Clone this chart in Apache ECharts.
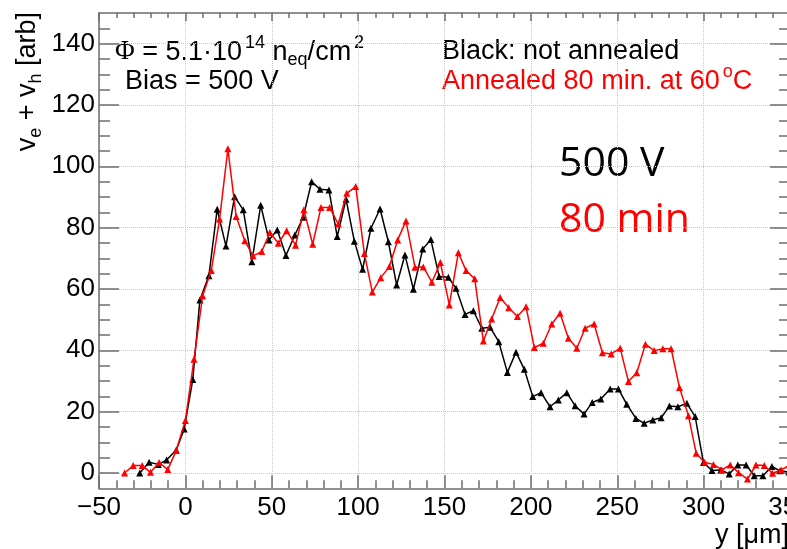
<!DOCTYPE html>
<html>
<head>
<meta charset="utf-8">
<script src="https://cdn.jsdelivr.net/npm/echarts@6/dist/echarts.min.js"></script>
<style>
  html, body { margin: 0; padding: 0; overflow: hidden; background: #fff; }
  #chart { width: 787px; height: 549px; }
</style>
</head>
<body>
<div id="chart"></div>
<script>
/* global echarts */

// values
const redX = [-35.2, -30.2, -25.0, -20.2, -15.2, -10.2, -5.3, 0.0, 5.0, 10.0,
  15.0, 19.8, 24.6, 29.4, 34.4, 39.2, 44.2, 48.9, 53.8, 58.6,
  63.8, 68.6, 73.7, 78.5, 83.5, 88.5, 93.4, 98.6, 103.6, 108.2,
  113.1, 118.1, 122.9, 127.7, 132.9, 137.7, 142.7, 147.6, 152.8, 158.0,
  162.5, 167.5, 172.5, 177.3, 182.2, 187.2, 192.2, 197.2, 202.0, 207.2,
  212.1, 216.9, 221.7, 226.6, 231.4, 236.6, 241.4, 246.5, 251.7, 256.5,
  261.3, 266.3, 271.4, 276.4, 281.2, 286.0, 291.2, 295.7, 300.5, 305.7,
  310.6, 315.4, 320.2, 325.4, 330.3, 335.1, 339.9, 344.9, 349.8];
const redY = [0, 2.4, 2.4, 0.2, 3.4, 1.1, 7.3, 17.1, 37.1, 57.8,
  66.0, 82.8, 105.7, 83.6, 75.7, 70.8, 72.2, 78.4, 74.9, 79.0,
  74.3, 85.8, 74.6, 86.6, 86.6, 81.2, 91.2, 93.4, 71.6, 59.0,
  63.7, 67.3, 76.0, 82.2, 67.1, 67.2, 62.2, 68.6, 54.8, 71.8,
  66.0, 63.3, 43.0, 50.2, 57.2, 53.9, 51.0, 54.2, 40.9, 42.3,
  48.6, 52.1, 43.9, 40.7, 47.2, 48.6, 39.2, 38.8, 40.7, 29.8,
  32.7, 42.0, 39.9, 40.5, 40.5, 27.9, 18.7, 6.4, 3.5, 2.8,
  1.0, 2.6, 0.1, -2.0, 2.6, 2.4, -0.1, 1.0, 2.6];

const blackX = [-26.4, -21.0, -15.7, -10.9, -5.3, -0.7, 4.3, 8.4, 13.6, 18.4,
  23.5, 28.5, 33.5, 38.5, 43.6, 48.4, 53.2, 58.2, 63.4, 68.2,
  73.1, 77.9, 83.1, 87.9, 93.0, 97.8, 102.6, 107.4, 112.7, 117.5,
  122.3, 127.1, 132.0, 137.4, 142.1, 146.9, 152.2, 156.7, 161.9, 166.7,
  171.6, 176.4, 181.4, 186.4, 191.4, 196.2, 201.1, 205.9, 211.1, 215.9,
  220.8, 225.6, 230.8, 235.5, 240.5, 245.9, 250.7, 255.5, 260.8, 265.6,
  270.6, 275.4, 280.2, 285.1, 290.3, 295.1, 299.9, 304.8, 310.0, 314.8,
  319.8, 324.6, 329.3, 334.3, 339.5, 344.3, 349.3];
const blackY = [0.0, 3.5, 2.8, 4.2, 7.5, 14.3, 30.5, 56.4, 64.3, 86.0,
  74.0, 90.1, 85.8, 68.9, 87.3, 76.0, 79.2, 70.9, 77.6, 83.4,
  95.0, 92.5, 92.3, 77.1, 89.3, 75.6, 66.4, 79.8, 86.1, 75.4,
  61.3, 71.1, 59.9, 73.0, 76.1, 64.1, 63.8, 60.2, 51.7, 52.9,
  47.2, 47.5, 42.8, 32.8, 39.4, 33.8, 24.9, 26.2, 21.6, 23.8,
  26.2, 21.9, 19.2, 23.0, 24.1, 27.4, 27.4, 22.4, 17.8, 16.2,
  17.3, 18.0, 21.8, 21.6, 22.7, 18.4, 3.4, 0.8, 1.0, -0.3,
  2.6, 2.6, -0.9, -0.9, 2.1, 0.7, 0.3];

const yTicks = [0, 20, 40, 60, 80, 100, 120, 140];

const AXIS_COLOR = "#6e6e6e";
const GRID_COLOR = "#c6c6c6";
const RED = "#ff0000";
const ROOT_FONT = "Liberation Sans";

function toPairs(xs, ys) {
  return xs.map((x, i) => [x, ys[i]]);
}

function xLabel(value) {
  return value < 0 ? "\u2212" + Math.abs(value) : String(value);
}

const tickLine = { color: AXIS_COLOR, width: 1.5 };

function xAxisOpt(position, major, minor, labels) {
  return {
    type: "value",
    position,
    min: -50,
    max: 350,
    interval: 50,
    axisLine: { show: true, onZero: false, lineStyle: tickLine },
    axisTick: { show: true, inside: true, length: major, lineStyle: tickLine },
    minorTick: { show: true, splitNumber: 5, length: minor, lineStyle: tickLine },
    axisLabel: {
      show: labels,
      margin: 7,
      color: "#000",
      fontSize: 26,
      fontFamily: ROOT_FONT,
      formatter: xLabel,
      showMinLabel: true,
      showMaxLabel: true,
    },
    splitLine: {
      show: labels,
      lineStyle: { color: GRID_COLOR, type: "dotted", width: 1 },
    },
  };
}

function yAxisOpt(position, labels) {
  return {
    type: "value",
    position,
    min: -5,
    max: 150,
    splitNumber: 8,
    minInterval: 20,
    maxInterval: 20,
    axisLine: { show: true, onZero: false, lineStyle: tickLine },
    axisTick: { show: true, inside: true, length: 20, customValues: yTicks, lineStyle: tickLine },
    minorTick: { show: true, splitNumber: 4, length: 11, lineStyle: tickLine },
    axisLabel: {
      show: labels,
      customValues: yTicks,
      margin: 4,
      color: "#000",
      fontSize: 26,
      fontFamily: ROOT_FONT,
    },
    splitLine: {
      show: labels,
      lineStyle: { color: GRID_COLOR, type: "dotted", width: 1 },
    },
  };
}

const base = { fontSize: 27, fontFamily: ROOT_FONT, lineHeight: 34 };
const sup = { fontSize: 18, fontFamily: ROOT_FONT, lineHeight: 34, padding: [0, 0, 18, 3] };
const sub = { fontSize: 18, fontFamily: ROOT_FONT, lineHeight: 34, padding: [16, 0, 0, 0] };

function richText(x, y, text, color, align, rotation) {
  return {
    type: "text",
    x,
    y,
    rotation: rotation || 0,
    silent: true,
    style: {
      text,
      fill: color,
      align: align || "left",
      verticalAlign: "middle",
      rich: {
        n: Object.assign({ fill: color }, base),
        phi: Object.assign({ fill: color }, base, { fontFamily: "Liberation Serif" }),
        sup: Object.assign({ fill: color }, sup),
        sub: Object.assign({ fill: color }, sub),
      },
    },
  };
}

function plainText(x, y, text, color, size, family, align) {
  return {
    type: "text",
    x,
    y,
    silent: true,
    style: {
      text,
      fill: color,
      fontSize: size,
      fontFamily: family,
      align,
      verticalAlign: "middle",
    },
  };
}

const chart = echarts.init(document.getElementById("chart"), null, { renderer: "canvas" });

chart.setOption({
  animation: false,
  backgroundColor: "#fff",
  // frame runs from x=-50 at 99px to x=350 at 790px, just past the right edge
  grid: {
    left: 99,
    top: 13,
    width: 691,
    height: 475.3,
    containLabel: false,
    outerBoundsMode: "none",
  },
  xAxis: [xAxisOpt("bottom", 13, 8, true), xAxisOpt("top", 8, 5, false)],
  yAxis: [yAxisOpt("left", true), yAxisOpt("right", false)],
  series: [
    {
      name: "not annealed",
      type: "line",
      xAxisIndex: 0,
      yAxisIndex: 0,
      data: toPairs(blackX, blackY),
      symbol: "triangle",
      symbolSize: 7,
      showAllSymbol: true,
      lineStyle: { color: "#000", width: 1.5 },
      itemStyle: { color: "#000" },
      z: 3,
    },
    {
      name: "annealed 80 min",
      type: "line",
      xAxisIndex: 0,
      yAxisIndex: 0,
      data: toPairs(redX, redY),
      symbol: "triangle",
      symbolSize: 7,
      showAllSymbol: true,
      lineStyle: { color: RED, width: 1.5 },
      itemStyle: { color: RED },
      z: 4,
    },
  ],
  graphic: [
    richText(115, 52.3, "{phi|\u03A6}{n| = 5.1\u00B710}{sup|14}{n| n}{sub|eq}{n|/cm}{sup|2}", "#000"),
    richText(125, 81.3, "{n|Bias = 500 V}", "#000"),
    richText(442, 51.3, "{n|Black: not annealed}", "#000"),
    richText(442, 81.3, "{n|Annealed 80 min. at 60}{sup|o}{n|C}", RED),
    plainText(559, 164.8, "500 V", "#000", 41, "Open Sans", "left"),
    plainText(559, 220.8, "80 min", RED, 41, "Open Sans", "left"),
    // y title anchored at its end, top of the frame
    richText(27.6, 12, "{n|v}{sub|e}{n| + v}{sub|h}{n| [arb]}", "#000", "right", Math.PI / 2),
    plainText(789, 535.6, "y [\u03BCm]", "#000", 27, ROOT_FONT, "right"),
  ],
});
</script>
</body>
</html>
